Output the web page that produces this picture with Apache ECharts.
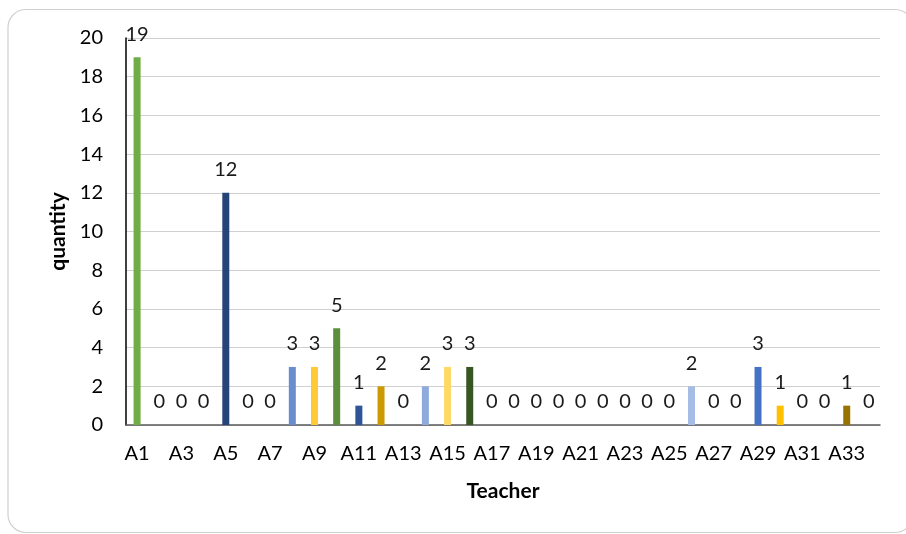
<!DOCTYPE html>
<html>
<head>
<meta charset="utf-8">
<script src="https://cdn.jsdelivr.net/npm/echarts@6/dist/echarts.min.js"></script>
<style>
  html, body { margin: 0; padding: 0; background: #fff; }
  #chart { width: 906px; height: 534px; }
</style>
</head>
<body>
<div id="chart"></div>
<script>
// Teachers A1..A34 and how many times each was chosen
const teachers = Array.from({ length: 34 }, (_, i) => 'A' + (i + 1));
const quantities = [19, 0, 0, 0, 12, 0, 0, 3, 3, 5, 1, 2, 0, 2, 3, 3, 0, 0, 0, 0, 0, 0, 0, 0, 0, 2, 0, 0, 3, 1, 0, 0, 1, 0];
const yTicks = [0, 2, 4, 6, 8, 10, 12, 14, 16, 18, 20];

// Office-style palette, one colour per teacher bar
const barColors = [
  '#70AD47', '#264478', '#9E480E', '#636363', '#264478', '#43682B', '#7CAFDD', '#698ED0',
  '#FFCA33', '#5B8F3C', '#2E5597', '#CC9900', '#8FAADC', '#8FAADC', '#FFD966', '#375623',
  '#A9C4EB', '#FFC000', '#70AD47', '#264478', '#9E480E', '#636363', '#264478', '#43682B',
  '#7CAFDD', '#A5BDE5', '#FFCA33', '#5B8F3C', '#4472C4', '#FFC000', '#8FAADC', '#FFD966',
  '#997300', '#375623'
];

const chart = echarts.init(document.getElementById('chart'), null, { renderer: 'canvas' });
const font = 'Lato, Liberation Sans, Arial, sans-serif';

chart.setOption({
  animation: false,
  backgroundColor: '#ffffff',
  graphic: [{
    type: 'rect',
    shape: { x: 8, y: 9.5, width: 905, height: 523, r: 18 },
    style: { fill: 'none', stroke: '#d0d0d0', lineWidth: 1.2 },
    z: -1
  }],
  grid: { left: 126, right: 26, top: 38, bottom: 109 },
  xAxis: {
    type: 'category',
    data: teachers,
    name: 'Teacher',
    nameLocation: 'middle',
    nameGap: 56,
    nameTextStyle: { fontFamily: font, fontSize: 21, fontWeight: 'bold', color: '#000' },
    axisLine: { lineStyle: { color: '#595959', width: 1.5 } },
    axisTick: { show: false },
    axisLabel: { interval: 1, fontFamily: font, fontSize: 20, color: '#000', margin: 19 }
  },
  yAxis: {
    type: 'value',
    min: yTicks[0],
    max: yTicks[yTicks.length - 1],
    interval: 2,
    name: 'quantity',
    nameLocation: 'middle',
    nameGap: 56,
    nameTextStyle: { fontFamily: font, fontSize: 21, fontWeight: 'bold', color: '#000' },
    axisLine: { show: true, lineStyle: { color: '#000', width: 1.5 } },
    axisTick: { show: false },
    axisLabel: { fontFamily: font, fontSize: 20, color: '#000', margin: 23 },
    splitLine: { lineStyle: { color: '#d0d0d0', width: 1 } }
  },
  series: [{
    type: 'bar',
    barWidth: 7,
    data: quantities.map((v, i) => ({ value: v, itemStyle: { color: barColors[i] } })),
    label: {
      show: true,
      position: 'top',
      distance: 13,
      fontFamily: font,
      fontSize: 20,
      color: '#1a1a1a'
    }
  }]
});
</script>
</body>
</html>
